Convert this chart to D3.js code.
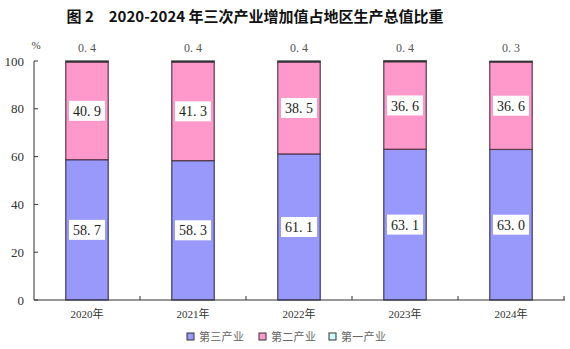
<!DOCTYPE html>
<html><head><meta charset="utf-8">
<script src="https://cdn.jsdelivr.net/npm/d3@7"></script>
<style>body{margin:0;background:#fff}</style>
</head><body>
<svg id="c" width="570" height="349"></svg>
<script>
const years = ["2020年","2021年","2022年","2023年","2024年"];
const tertiary = [58.7, 58.3, 61.1, 63.1, 63.0];
const secondary = [40.9, 41.3, 38.5, 36.6, 36.6];
const primary = [0.4, 0.4, 0.4, 0.4, 0.3];
const yTicks = [0, 20, 40, 60, 80, 100];
const seriesNames = ["第三产业","第二产业","第一产业"];

const colors = ["#9999fb","#ff99cc","#ccffff"];
const strokes = ["#3a3a6e","#5a3a4a","#333"];
const serif = "'Liberation Serif','DejaVu Serif','Noto Sans CJK SC',serif";
const cjk = "'Noto Sans CJK SC','Liberation Serif',serif";

const svg = d3.select("#c");
const x = d3.scaleBand().domain(years).range([34, 564]).paddingInner(0.6).paddingOuter(0.3);
const y = d3.scaleLinear().domain([0, 100]).range([300, 61]);

svg.append("text").attr("x", 255).attr("y", 22).attr("text-anchor","middle")
  .attr("font-family", cjk).attr("font-weight","bold").attr("font-size", 15).attr("fill","#111")
  .text("图 2　2020-2024 年三次产业增加值占地区生产总值比重");

const rows = years.map((yr,i)=>({year:yr, t:tertiary[i], s:secondary[i], p:primary[i]}));
const stack = d3.stack().keys(["t","s","p"])(rows);

stack.forEach((layer, li) => {
  svg.append("g").selectAll("rect").data(layer).join("rect")
    .attr("x", d => x(d.data.year))
    .attr("width", x.bandwidth())
    .attr("y", d => y(d[1]))
    .attr("height", d => Math.max(0.8, y(d[0]) - y(d[1])))
    .attr("fill", colors[li]).attr("stroke", strokes[li]).attr("stroke-width", 1.2);
});

// labels inside
[0,1].forEach(li => {
  const g = svg.append("g").selectAll("g").data(stack[li]).join("g")
    .attr("transform", d => `translate(${x(d.data.year)+x.bandwidth()/2},${y((d[0]+d[1])/2)})`);
  g.append("rect").attr("x",-18).attr("y",-10).attr("width",36).attr("height",20).attr("fill","#fff");
  g.append("text").attr("text-anchor","middle").attr("dy","0.36em")
    .attr("font-family", serif).attr("font-size", 14).attr("fill","#222")
    .text(d => (d[1]-d[0]).toFixed(1).replace(".", ". "));
});
// top labels
svg.append("g").selectAll("text").data(rows).join("text")
  .attr("x", d => x(d.year)+x.bandwidth()/2).attr("y", 52).attr("text-anchor","middle")
  .attr("font-family", serif).attr("font-size", 12).attr("fill","#555")
  .text(d => d.p.toFixed(1).replace(".", ". "));

// y axis
const ya = svg.append("g");
ya.append("line").attr("x1",34).attr("x2",34).attr("y1",y(100)).attr("y2",y(0)).attr("stroke","#333");
ya.selectAll("line.t").data(yTicks).join("line").attr("class","t")
  .attr("x1",34).attr("x2",38).attr("y1",d=>y(d)).attr("y2",d=>y(d)).attr("stroke","#333");
ya.selectAll("text").data(yTicks).join("text")
  .attr("x",24).attr("y",d=>y(d)).attr("dy","0.35em").attr("text-anchor","end")
  .attr("font-family", serif).attr("font-size", 13).attr("fill","#333").text(d=>d);
svg.append("text").attr("x",36).attr("y",49).attr("text-anchor","middle")
  .attr("font-family", serif).attr("font-size", 11).attr("fill","#444").text("%");

// x axis
svg.append("line").attr("x1",34).attr("x2",565).attr("y1",300).attr("y2",300).attr("stroke","#333");
const step = x.step();
const bounds = years.map((d,i)=> x(d) - (step - x.bandwidth())/2 + step);
svg.append("g").selectAll("line").data(bounds).join("line")
  .attr("x1",d=>d).attr("x2",d=>d).attr("y1",300).attr("y2",296).attr("stroke","#333");
svg.append("g").selectAll("text").data(years).join("text")
  .attr("x", d => x(d)+x.bandwidth()/2).attr("y", 318).attr("text-anchor","middle")
  .attr("font-family", serif).attr("font-size", 11).attr("fill","#333").text(d=>d);

// legend
const lx = [187, 259, 329];
const lg = svg.append("g").selectAll("g").data(seriesNames).join("g")
  .attr("transform",(d,i)=>`translate(${lx[i]},337)`);
lg.append("rect").attr("x",0).attr("y",-4).attr("width",7).attr("height",7)
  .attr("fill",(d,i)=>colors[i]).attr("stroke","#333").attr("stroke-width",1);
lg.append("text").attr("x",12).attr("y",0).attr("dy","0.35em")
  .attr("font-family", cjk).attr("font-size", 11).attr("letter-spacing", 0.3).attr("fill","#666").text(d=>d);
</script>
</body></html>
